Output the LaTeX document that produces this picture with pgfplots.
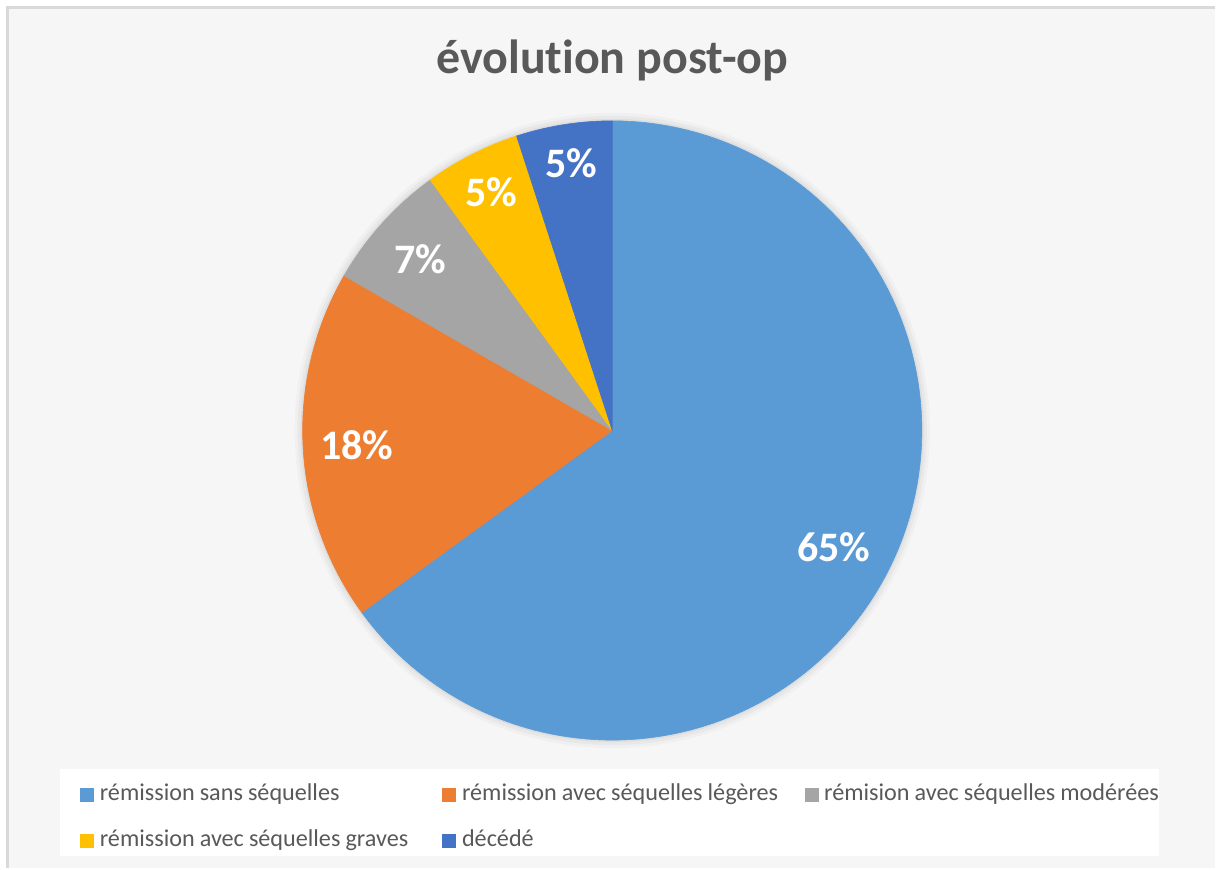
\documentclass[border=0pt]{standalone}
\usepackage{pgfplots}
\pgfplotsset{compat=1.18}
\usepackage{fontspec}
\setmainfont{Carlito}[Ligatures=NoCommon]
\definecolor{cA}{HTML}{5B9BD5}
\definecolor{cB}{HTML}{ED7D31}
\definecolor{cC}{HTML}{A5A5A5}
\definecolor{cD}{HTML}{FFC000}
\definecolor{cE}{HTML}{4472C4}
\definecolor{txt}{HTML}{595959}
\definecolor{bord}{HTML}{D9D9D9}
\definecolor{bg}{HTML}{F6F6F6}
% counts per category (n = 60)
\def\vA{39}\def\vB{11}\def\vC{4}\def\vD{3}\def\vE{3}\def\vT{60}
\pgfmathsetmacro\aA{90}
\pgfmathsetmacro\aB{\aA-360*\vA/\vT}
\pgfmathsetmacro\aC{\aB-360*\vB/\vT}
\pgfmathsetmacro\aD{\aC-360*\vC/\vT}
\pgfmathsetmacro\aE{\aD-360*\vD/\vT}
\pgfmathsetmacro\aF{\aE-360*\vE/\vT}
\newcommand\legtxt[1]{\mbox{\spaceskip=0.21em\relax #1}}
\begin{document}
\begin{tikzpicture}
\begin{axis}[
  at={(0,0)}, anchor=south west,
  width=608pt, height=434.5pt, scale only axis,
  xmin=0, xmax=1216, ymin=0, ymax=869,
  hide axis, clip=false,
  legend columns=3,
  legend image code/.code={\fill[#1] (0pt,-3.25pt) rectangle (6.5pt,3.25pt);},
  legend style={at={(axis cs:80,50)}, anchor=west, draw=none, fill=none, inner sep=0pt,
    font=\fontsize{12.1}{14}\selectfont, text=txt, column sep=0pt, row sep=12.5pt,
    nodes={inner ysep=0pt, inner xsep=3pt, text width=168.5pt, align=left, text height=8pt, text depth=2.5pt}},
]
\fill[white] (axis cs:0,0) rectangle (axis cs:1216,869);
\fill[bg] (axis cs:8,0) rectangle (axis cs:1216,861);
\draw[bord, line width=1.5pt] (axis cs:8,0) -- (axis cs:8,861) -- (axis cs:1216,861);
\fill[white] (axis cs:60,12) rectangle (axis cs:1160,99);
\fill[black, opacity=0.025] (axis cs:613,438) circle[radius=318];
\fill[black, opacity=0.03] (axis cs:613,438) circle[radius=315];
\fill[black, opacity=0.04] (axis cs:613,438) circle[radius=312];

\addplot[fill=cA, draw=cA, line width=0.3pt, domain=\aB:\aA, samples=120, variable=\t]
  ({613+310*cos(\t)},{438+310*sin(\t)}) -- (axis cs:613,438) -- cycle;
\addlegendentry{\legtxt{rémission sans séquelles}}
\addplot[fill=cB, draw=cB, line width=0.3pt, domain=\aC:\aB, samples=50, variable=\t]
  ({613+310*cos(\t)},{438+310*sin(\t)}) -- (axis cs:613,438) -- cycle;
\addlegendentry{\legtxt{rémission avec séquelles légères}}
\addplot[fill=cC, draw=cC, line width=0.3pt, domain=\aD:\aC, samples=30, variable=\t]
  ({613+310*cos(\t)},{438+310*sin(\t)}) -- (axis cs:613,438) -- cycle;
\addlegendentry{\legtxt{rémision avec séquelles modérées}}
\addplot[fill=cD, draw=cD, line width=0.3pt, domain=\aE:\aD, samples=30, variable=\t]
  ({613+310*cos(\t)},{438+310*sin(\t)}) -- (axis cs:613,438) -- cycle;
\addlegendentry{\legtxt{rémission avec séquelles graves}}
\addplot[fill=cE, draw=cE, line width=0.3pt, domain=\aF:\aE, samples=30, variable=\t]
  ({613+310*cos(\t)},{438+310*sin(\t)}) -- (axis cs:613,438) -- cycle;
\addlegendentry{\legtxt{décédé}}

\begin{scope}[every node/.style={font=\fontsize{21}{25}\bfseries\selectfont, text=white}]
\node at (axis cs:835,321) {65\%};
\node at (axis cs:357,423) {18\%};
\node at (axis cs:421,609) {7\%};
\node at (axis cs:492,677) {5\%};
\node at (axis cs:572,706) {5\%};
\end{scope}
\node[font=\fontsize{24}{28}\bfseries\selectfont, text=txt] at (axis cs:613,808) {évolution post-op};
\end{axis}
\end{tikzpicture}
\end{document}
